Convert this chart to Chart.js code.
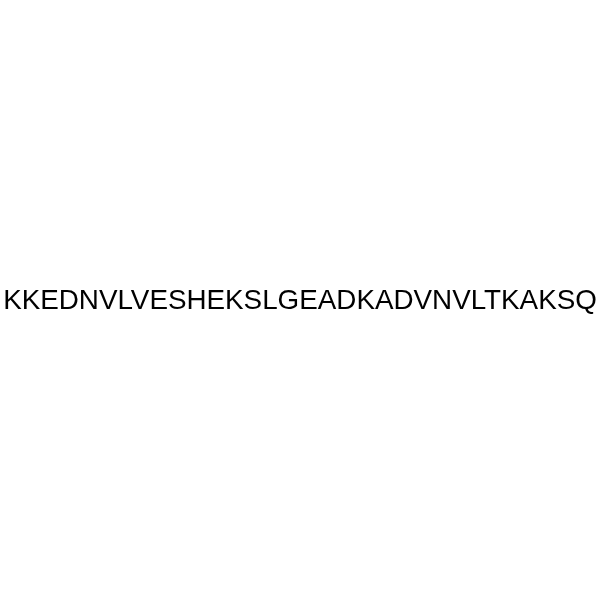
<!DOCTYPE html>
<html>
<head>
<meta charset="utf-8">
<script src="https://cdn.jsdelivr.net/npm/chart.js@4"></script>
<style>
  html, body { margin: 0; padding: 0; background: #fff; }
  #wrap { width: 600px; height: 600px; }
</style>
</head>
<body>
<div id="wrap"><canvas id="seqChart" width="600" height="600"></canvas></div>
<script>
// peptide sequence, one residue per entry
const residues = ['K','K','E','D','N','V','L','V','E','S','H','E','K','S','L','G',
                  'E','A','D','K','A','D','V','N','V','L','T','K','A','K','S','Q'];
const textWidth = 594;   // width the line spans in the picture
const baseline = 308.5;  // y of the letters' baseline

// draws the sequence as one line of text
const sequencePlugin = {
    id: 'sequence',
    afterDraw(chart) {
        const ctx = chart.ctx;
        const text = residues.join('');
        ctx.save();
        ctx.font = '100px "Liberation Sans", Arial, sans-serif';
        const w = ctx.measureText(text).width;
        const size = 100 * textWidth / w;
        ctx.font = size.toFixed(2) + 'px "Liberation Sans", Arial, sans-serif';
        ctx.fillStyle = '#000';
        ctx.textAlign = 'center';
        ctx.textBaseline = 'alphabetic';
        ctx.fillText(text, chart.width / 2, baseline);
        ctx.restore();
    }
};

new Chart(document.getElementById('seqChart').getContext('2d'), {
    type: 'scatter',
    data: { datasets: [{ data: [] }] },
    options: {
        responsive: false,
        animation: false,
        layout: { padding: 0 },
        plugins: { legend: { display: false }, tooltip: { enabled: false } },
        scales: { x: { display: false }, y: { display: false } }
    },
    plugins: [sequencePlugin]
});
</script>
</body>
</html>
